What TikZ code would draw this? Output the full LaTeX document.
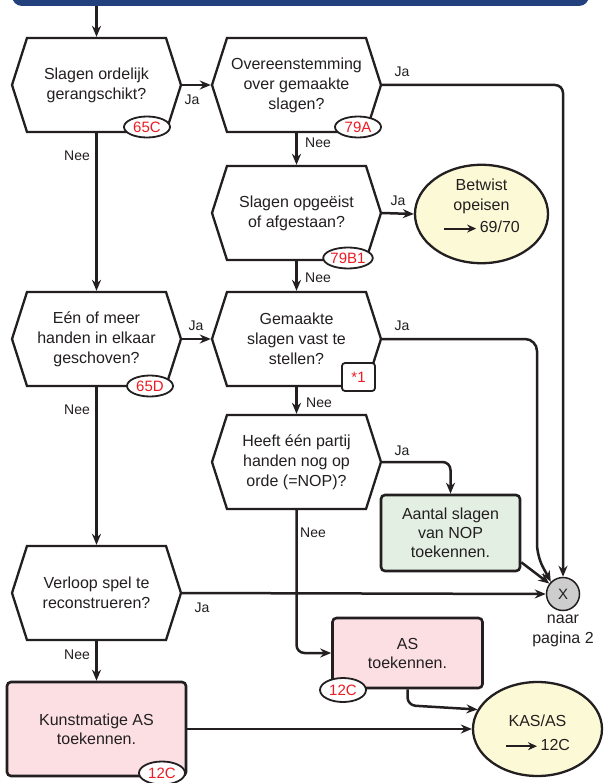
\documentclass[tikz,border=0pt]{standalone}
\usepackage{fontspec}
\setmainfont{Liberation Sans}
\usepackage{tikz}
\usetikzlibrary{shapes.geometric, shapes.symbols, arrows.meta, positioning}
\definecolor{bannerblue}{RGB}{33, 64, 125}
\definecolor{inkgrey}{RGB}{35, 31, 32}
\definecolor{rulered}{RGB}{237, 28, 36}
\definecolor{actionpink}{RGB}{251, 223, 227}
\definecolor{nopgreen}{RGB}{226, 239, 226}
\definecolor{endcream}{RGB}{252, 250, 214}
\definecolor{exitgrey}{RGB}{205, 205, 205}

\begin{document}
\begin{tikzpicture}[x=1pt, y=-1pt,
    vraag/.style={signal, signal to=east and west, signal pointer angle=144.6,
                  draw=inkgrey, line width=2.3pt, fill=white, minimum width=169pt,
                  minimum height=94pt, inner sep=0pt, align=center, text=inkgrey,
                  font=\fontsize{16}{20}\selectfont},
    actie/.style={draw=inkgrey, fill=#1, line width=2.6pt, rounded corners=4pt,
                  inner sep=0pt, align=center, text=inkgrey,
                  font=\fontsize{16}{19}\selectfont},
    uitkomst/.style={ellipse, draw=inkgrey, fill=endcream, line width=2.3pt,
                  inner sep=0pt, align=center, text=inkgrey,
                  font=\fontsize{16}{20}\selectfont},
    artikel/.style={ellipse, draw=inkgrey, fill=white, line width=1.8pt,
                  minimum width=46pt, minimum height=21pt, inner sep=0pt,
                  text=rulered, font=\fontsize{15}{15}\selectfont},
    antwoord/.style={inner sep=0pt, text=inkgrey, font=\fontsize{14}{16}\selectfont},
    pijl/.style={draw=inkgrey, line width=2.5pt, rounded corners=8pt,
                  -{Stealth[length=11pt, width=9pt]}}
]
    \useasboundingbox[fill=white] (0,0) rectangle (603,783);

    % kopbalk
    \node[fill=bannerblue, rounded corners=10pt, minimum width=577pt,
          minimum height=30pt, inner sep=0pt] (kop) at (300.5,-9) {};

    % vragen
    \node[vraag] (geordend) at (96.5,85) {Slagen ordelijk\\gerangschikt?};
    \node[vraag] (eens) at (296.5,85) {Overeenstemming\\over gemaakte\\slagen?};
    \node[vraag] (opgeeist) at (296.5,213) {Slagen opgeëist\\of afgestaan?};
    \node[vraag] (geschoven) at (96.5,339) {Eén of meer\\handen in elkaar\\geschoven?};
    \node[vraag] (vaststellen) at (296.5,339) {Gemaakte\\slagen vast te\\stellen?};
    \node[vraag] (nop) at (296.5,462) {Heeft één partij\\handen nog op\\orde (=NOP)?};
    \node[vraag] (verloop) at (96.5,593) {Verloop spel te\\reconstrueren?};

    % uitkomsten
    \node[uitkomst, minimum width=133pt, minimum height=92pt, text depth=16pt] (betwist) at (481.5,214)
        {Betwist\\opeisen\\[2pt]\tikz[baseline=-0.5ex]\draw[line width=2pt, -{Stealth[length=9pt, width=8pt]}] (0pt,0pt) -- (32pt,0pt);\,69/70};
    \node[actie=nopgreen, minimum width=139pt, minimum height=76pt] (aantal) at (450.5,533)
        {Aantal slagen\\van NOP\\toekennen.};
    \node[circle, draw=inkgrey, fill=exitgrey, line width=1.5pt, minimum size=33pt,
          inner sep=0pt, text=inkgrey, font=\fontsize{15}{15}\selectfont] (naar) at (563,594) {X};
    \node[antwoord, align=center, font=\fontsize{16}{20}\selectfont] (pagina) at (563,631) {naar\\pagina 2};
    \node[actie=actionpink, minimum width=150pt, minimum height=70pt] (astoek) at (407.5,653)
        {AS\\toekennen.};
    \node[actie=actionpink, minimum width=179pt, minimum height=94pt] (kunst) at (96.5,729)
        {Kunstmatige AS\\toekennen.};
    \node[uitkomst, minimum width=129pt, minimum height=94pt, text height=43pt] (kas) at (537.5,729)
        {KAS/AS\\[4pt]\tikz[baseline=-0.5ex]\draw[line width=2pt, -{Stealth[length=9pt, width=8pt]}] (0pt,0pt) -- (31pt,0pt);\,12C};

    % artikelverwijzingen
    \node[artikel] (a65c) at (147,127) {65C};
    \node[artikel] (a79a) at (358,127) {79A};
    \node[artikel, minimum width=48pt] (a79b1) at (348,258) {79B1};
    \node[artikel] (a65d) at (150,386) {65D};
    \node[draw=inkgrey, fill=white, line width=1.8pt, rounded corners=3pt, minimum width=33pt,
          minimum height=28pt, inner sep=0pt, text=rulered,
          font=\fontsize{15}{15}\selectfont] (noot) at (358.5,377) {*1};
    \node[artikel, minimum height=24pt] (a12c) at (343,690) {12C};
    \node[artikel, minimum height=23pt] (b12c) at (162,773) {12C};

    % antwoorden
    \node[antwoord] (ja1) at (192,100) {Ja};
    \node[antwoord] (ja2) at (402,72) {Ja};
    \node[antwoord] (nee1) at (77,156) {Nee};
    \node[antwoord] (nee2) at (318,143) {Nee};
    \node[antwoord] (ja3) at (398,201) {Ja};
    \node[antwoord] (nee3) at (318,278) {Nee};
    \node[antwoord] (ja4) at (196,326) {Ja};
    \node[antwoord] (ja5) at (402,326) {Ja};
    \node[antwoord] (nee4) at (77,410) {Nee};
    \node[antwoord] (nee5) at (319,403) {Nee};
    \node[antwoord] (ja6) at (402,451) {Ja};
    \node[antwoord] (nee6) at (313,533) {Nee};
    \node[antwoord] (ja7) at (202,608) {Ja};
    \node[antwoord] (nee7) at (77,655) {Nee};

    % verbindingen
    \coordinate (bocht) at (537,556);
    \draw[pijl] (kop.south -| geordend.north) -- (geordend.north);
    \draw[pijl] (geordend.east) -- (eens.west);
    \draw[pijl] (eens.east) -| (naar.north);
    \draw[pijl] (eens.south) -- (opgeeist.north);
    \draw[pijl] (opgeeist.east) -- (betwist.west);
    \draw[pijl] (opgeeist.south) -- (vaststellen.north);
    \draw[pijl] (geordend.south) -- (geschoven.north);
    \draw[pijl] (geschoven.east) -- (vaststellen.west);
    \draw[pijl, rounded corners=12pt] (vaststellen.east) -- (vaststellen.east -| bocht) -- (bocht) -- (naar.north west);
    \draw[pijl] (vaststellen.south) -- (nop.north);
    \draw[pijl] (nop.east) -| (aantal.north);
    \draw[pijl] (nop.south) |- (astoek.west);
    \draw[pijl] ([shift={(0,-10)}]aantal.south east) -- (naar);
    \draw[pijl] (geschoven.south) -- (verloop.north);
    \draw[pijl] (verloop.east) -- (naar.west);
    \draw[pijl] (verloop.south) -- (kunst.north);
    \draw[pijl] (kunst.east) -- (kunst.east -| kas.west);
    \draw[pijl] (astoek.south) -- ++(0,16) -- (kas.162);
\end{tikzpicture}
\end{document}
